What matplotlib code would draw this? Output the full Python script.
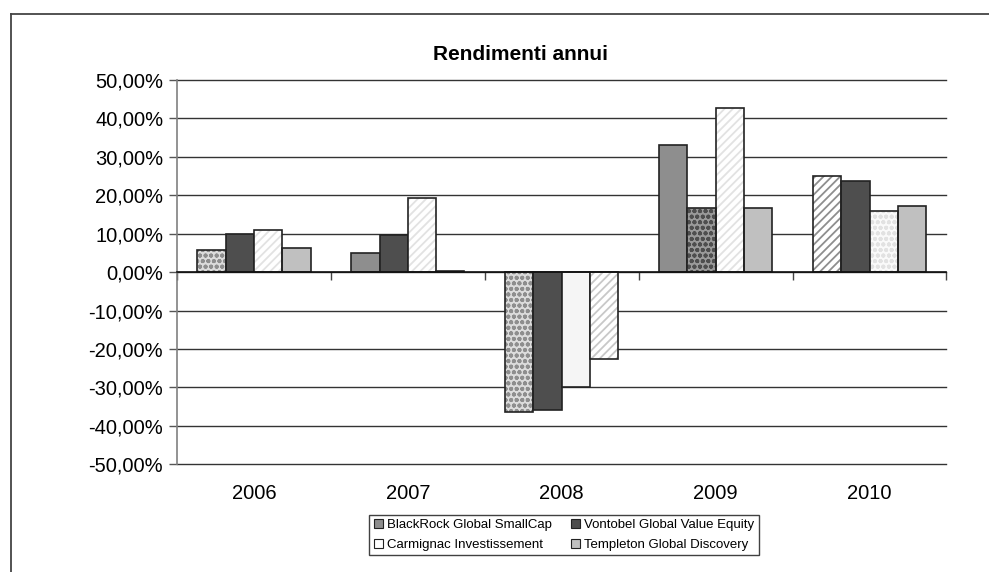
import numpy as np
import matplotlib.pyplot as plt
from matplotlib.lines import Line2D
from matplotlib.patches import Patch
from matplotlib.ticker import FuncFormatter
import matplotlib.transforms as mtransforms

plt.rcParams['font.family'] = ['Liberation Sans', 'DejaVu Sans']
plt.rcParams['hatch.linewidth'] = 1.3

years = ['2006', '2007', '2008', '2009', '2010']
funds = ['BlackRock Global SmallCap', 'Vontobel Global Value Equity',
         'Carmignac Investissement', 'Templeton Global Discovery']
# annual returns in %
blackrock = [5.8, 5.0, -36.3, 33.0, 25.0]
vontobel = [10.0, 9.6, -35.9, 16.6, 23.6]
carmignac = [10.9, 19.4, -29.9, 42.6, 15.8]
templeton = [6.4, 0.4, -22.6, 16.8, 17.1]

series = [blackrock, vontobel, carmignac, templeton]
colors = ['#8e8e8e', '#4e4e4e', '#ffffff', '#c0c0c0']
pattern_colors = ['#8e8e8e', '#4e4e4e', '#e2e2e2', '#c8c8c8']
dot_bg = ['#dcdcdc', '#9a9a9a', '#fafafa', '#ececec']

fig = plt.figure(figsize=(9.89, 5.72), dpi=100)
ax = fig.add_axes([0.179, 0.1883, 0.778, 0.6718])

x = np.arange(len(years))
width = 0.184
offsets = (np.arange(4) - 1.5) * width

data = np.array(series)
best = data.argmax(axis=0)
worst = data.argmin(axis=0)

for i, vals in enumerate(series):
    for j, v in enumerate(vals):
        xpos = x[j] + offsets[i]
        if i == best[j]:
            # diagonal hatch, best of the year
            ax.bar(xpos, v / 100, width, color='white', hatch='////',
                   edgecolor=pattern_colors[i], linewidth=0, zorder=3)
            ax.bar(xpos, v / 100, width, color='none', edgecolor='#222222',
                   linewidth=1.2, zorder=4)
        elif i == worst[j]:
            # dotted pattern, worst of the year
            ax.bar(xpos, v / 100, width, color=dot_bg[i], hatch='ooo',
                   edgecolor=pattern_colors[i], linewidth=0, zorder=3)
            ax.bar(xpos, v / 100, width, color='none', edgecolor='#222222',
                   linewidth=1.2, zorder=4)
        else:
            fc = colors[i] if i != 2 else '#f5f5f5'
            ax.bar(xpos, v / 100, width, color=fc, edgecolor='#222222',
                   linewidth=1.2, zorder=3)

ax.set_xlim(-0.5, len(years) - 0.5)
ax.set_ylim(-0.5, 0.5)
ax.set_yticks(np.arange(-0.5, 0.51, 0.1))
ax.yaxis.set_major_formatter(FuncFormatter(
    lambda v, p: ('%.2f%%' % (v * 100)).replace('.', ',').replace('-0,00', '0,00')))
ax.yaxis.grid(True, color='#333333', linewidth=1.0, zorder=1)
for gl in ax.yaxis.get_gridlines():
    gl.set_clip_on(False)
ax.tick_params(axis='y', direction='out', length=6, width=1, color='#555555',
               labelsize=14.5, pad=4)

for s in ['top', 'right']:
    ax.spines[s].set_visible(False)
ax.spines['left'].set_color('#808080')
ax.spines['left'].set_linewidth(1.2)
ax.spines['bottom'].set_position(('data', 0))
ax.spines['bottom'].set_color('#111111')
ax.spines['bottom'].set_linewidth(1.2)
ax.spines['bottom'].set_zorder(5)

ax.set_xticks(np.arange(len(years) + 1) - 0.5)
ax.set_xticklabels([])
ax.tick_params(axis='x', direction='out', length=6, width=1, color='#444444')

trans = mtransforms.blended_transform_factory(ax.transData, ax.transAxes)
for j, yr in enumerate(years):
    ax.text(x[j], -0.075, yr, transform=trans, ha='center', va='center',
            fontsize=14.5)

fig.text(0.526, 0.904, 'Rendimenti annui', ha='center', va='center',
         fontsize=15, fontweight='bold')

# legend is filled row by row in the reference
order = [0, 2, 1, 3]
handles = [Patch(facecolor=colors[i], edgecolor='#222222', linewidth=0.8)
           for i in order]
labels = [funds[i] for i in order]
leg = fig.legend(handles, labels, ncol=2, loc='center',
                 bbox_to_anchor=(564 / 989, 1 - 535 / 572), fontsize=9.5,
                 frameon=True, fancybox=False, edgecolor='#111111',
                 handlelength=0.7, handleheight=0.7, handletextpad=0.3,
                 columnspacing=1.4, borderpad=0.35, labelspacing=0.55)
leg.get_frame().set_linewidth(1.0)

# outer chart border (cropped on the right and bottom)
fig.add_artist(Line2D([11 / 989, 1.0], [1 - 13.5 / 572] * 2, color='#444444',
                      linewidth=1.3, transform=fig.transFigure))
fig.add_artist(Line2D([11 / 989] * 2, [0.0, 1 - 13.5 / 572], color='#444444',
                      linewidth=1.3, transform=fig.transFigure))

fig.savefig('out.png', dpi=100)
